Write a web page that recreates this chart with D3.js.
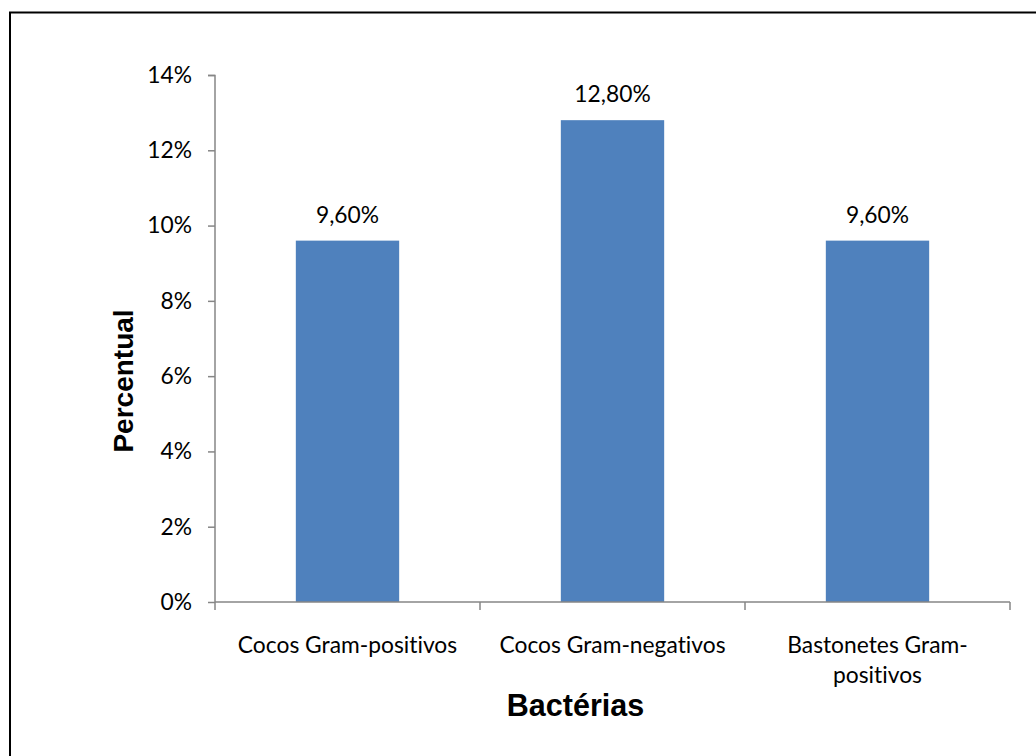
<!DOCTYPE html>
<html>
<head>
<meta charset="utf-8">
<script src="https://cdn.jsdelivr.net/npm/d3@7"></script>
<style>
  html, body { margin: 0; padding: 0; background: #fff; overflow: hidden; }
  svg { display: block; }
  text { font-variant-ligatures: none; }
</style>
</head>
<body>
<svg id="chart" width="1036" height="756"></svg>
<script>
// Percentage of samples by bacterial morphology group
const categories = ["Cocos Gram-positivos", "Cocos Gram-negativos", "Bastonetes Gram-positivos"];
const categoryLines = [["Cocos Gram-positivos"], ["Cocos Gram-negativos"], ["Bastonetes Gram-", "positivos"]];
const values = [9.6, 12.8, 9.6];
const valueLabels = ["9,60%", "12,80%", "9,60%"];
const yTicks = [0, 2, 4, 6, 8, 10, 12, 14];
const yTickLabels = ["0%", "2%", "4%", "6%", "8%", "10%", "12%", "14%"];

const svg = d3.select("#chart");
const labelFont = "Lato, 'Open Sans', sans-serif";
const labelSize = 22.8;
const titleFont = "'Liberation Sans', Arial, sans-serif";
const axisColor = "#868686";
const barColor = "#4F81BD";

// Outer chart frame
svg.append("rect")
  .attr("x", 10).attr("y", 12.5)
  .attr("width", 1040).attr("height", 760)
  .attr("fill", "none").attr("stroke", "#000").attr("stroke-width", 2);

const plot = { left: 215, right: 1010, top: 75, bottom: 602 };

const x = d3.scaleBand()
  .domain(categories)
  .range([plot.left, plot.right])
  .paddingInner(0.61)
  .paddingOuter(0.305);

const xCat = d3.scaleBand()
  .domain(categories)
  .range([plot.left, plot.right]);

const y = d3.scaleLinear()
  .domain([0, 14])
  .range([plot.bottom, plot.top]);

// Bars
svg.append("g").selectAll("rect")
  .data(values)
  .join("rect")
  .attr("x", (d, i) => x(categories[i]))
  .attr("y", d => y(d))
  .attr("width", x.bandwidth())
  .attr("height", d => y(0) - y(d))
  .attr("fill", barColor);

// Value labels
svg.append("g").selectAll("text")
  .data(values)
  .join("text")
  .attr("x", (d, i) => x(categories[i]) + x.bandwidth() / 2)
  .attr("y", d => y(d) - 18)
  .attr("text-anchor", "middle")
  .attr("font-family", labelFont)
  .attr("font-size", labelSize)
  .attr("fill", "#000")
  .text((d, i) => valueLabels[i]);

// Y axis
const yAxis = d3.axisLeft(y)
  .tickValues(yTicks)
  .tickFormat((d, i) => yTickLabels[i])
  .tickSize(7)
  .tickPadding(16);
const gy = svg.append("g")
  .attr("transform", `translate(${plot.left},0)`)
  .call(yAxis);
gy.select(".domain").attr("stroke", axisColor).attr("stroke-width", 1.5)
  .attr("d", `M-7,${plot.top + 0.5}H0V${plot.bottom}`);
gy.selectAll(".tick line").attr("stroke", axisColor).attr("stroke-width", 1.5);
gy.selectAll(".tick text")
  .attr("font-family", labelFont)
  .attr("font-size", labelSize)
  .attr("fill", "#000");

// X axis: ticks at category boundaries
const gx = svg.append("g")
  .attr("transform", `translate(0,${plot.bottom})`);
gx.append("line")
  .attr("x1", plot.left).attr("x2", plot.right)
  .attr("stroke", axisColor).attr("stroke-width", 1.5);
const boundaries = categories.map(c => xCat(c)).concat([plot.right]);
gx.selectAll("line.tick")
  .data(boundaries)
  .join("line")
  .attr("class", "tick")
  .attr("x1", d => d).attr("x2", d => d)
  .attr("y1", 0).attr("y2", 8)
  .attr("stroke", axisColor).attr("stroke-width", 1.5);

// Category labels
const catText = svg.append("g").selectAll("text")
  .data(categories)
  .join("text")
  .attr("text-anchor", "middle")
  .attr("font-family", labelFont)
  .attr("font-size", labelSize)
  .attr("fill", "#000");
catText.each(function (c, i) {
  const t = d3.select(this);
  categoryLines[i].forEach((line, j) => {
    t.append("tspan")
      .attr("x", xCat(c) + xCat.bandwidth() / 2)
      .attr("y", 653 + j * 30)
      .text(line);
  });
});

// Axis titles
svg.append("text")
  .attr("transform", "translate(133,381) rotate(-90)")
  .attr("text-anchor", "middle")
  .attr("font-family", titleFont)
  .attr("font-weight", "bold")
  .attr("font-size", 28)
  .attr("fill", "#000")
  .text("Percentual");

svg.append("text")
  .attr("x", 575.5).attr("y", 716)
  .attr("text-anchor", "middle")
  .attr("font-family", titleFont)
  .attr("font-weight", "bold")
  .attr("font-size", 30.5)
  .attr("fill", "#000")
  .text("Bactérias");
</script>
</body>
</html>
